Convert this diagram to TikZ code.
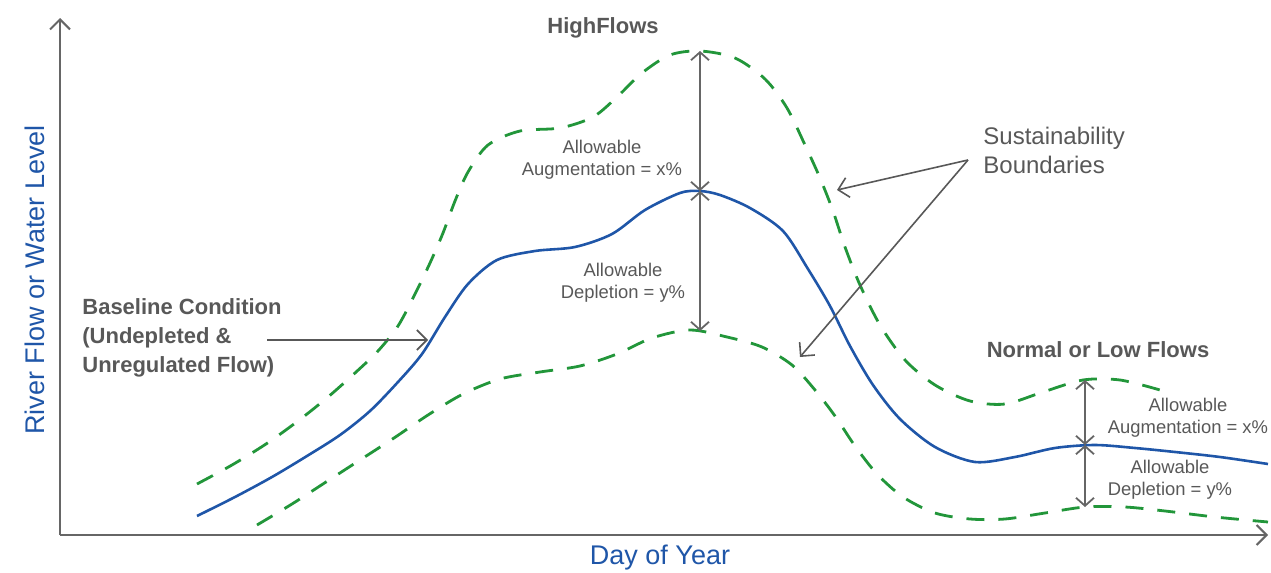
\documentclass[tikz,border=0pt]{standalone}
\usepackage{fontspec}
\setmainfont{Liberation Sans}
\usetikzlibrary{arrows.meta, positioning, calc}
\definecolor{axisgray}{HTML}{666666}
\definecolor{txtgray}{HTML}{585858}
\definecolor{flowblue}{HTML}{1F56A8}
\definecolor{boundgreen}{HTML}{22963A}

\begin{document}
\begin{tikzpicture}[x=0.5pt, y=-0.5pt,
    barb/.style={-{Straight Barb[length=5pt,width=10pt]}},
    dbarb/.style={{Straight Barb[length=4pt,width=9pt]}-{Straight Barb[length=4pt,width=9pt]}, axisgray, line width=0.9pt},
    lbl/.style={txtgray, font=\fontsize{9.2}{11}\selectfont, align=center, inner sep=0pt},
    head/.style={txtgray, font=\bfseries\fontsize{11}{14.5}\selectfont, inner sep=0pt},
    bound/.style={boundgreen, line width=1.4pt, dash pattern=on 9pt off 7pt},
    base/.style={flowblue, line width=1.3pt}]
    \useasboundingbox (0,0) rectangle (1271,573);

    % axes
    \coordinate (O) at (60,535);
    \coordinate (Ytop) at (60,18);
    \coordinate (Xend) at (1268,535);
    \draw[barb, axisgray, line width=1pt] (O) -- (Ytop);
    \draw[barb, axisgray, line width=1pt] (O) -- (Xend);
    \node[flowblue, rotate=90, font=\fontsize{13.5}{16}\selectfont] (YL) at (35,280) {River Flow or Water Level};
    \node[flowblue, font=\fontsize{13.5}{16}\selectfont] (XL) at (660,558) {Day of Year};

    % sustainability boundaries
    \draw[bound] plot[smooth] coordinates {(197,484) (232,465) (266,444) (298,421) (328,397) (355,373) (378,351) (398,326) (415,294) (430,263) (443,233) (455,201) (468,172) (488,145) (520,131) (560,128) (593,117) (617,97) (642,73) (670,55) (700,51) (735,58) (765,79) (787,108) (805,145) (820,178) (833,211) (845,247) (860,285) (880,325) (905,360) (935,385) (970,401) (1005,404) (1043,392) (1083,380) (1120,380) (1160,390)};
    \draw[bound] plot[smooth] coordinates {(257,525) (292,504) (326,482) (360,460) (394,438) (428,415) (463,394) (500,379) (540,372) (580,366) (617,354) (652,338) (690,330) (727,337) (762,347) (792,365) (815,390) (835,416) (855,446) (877,474) (903,497) (935,513) (970,519) (1005,519) (1045,513) (1085,507) (1125,507) (1165,511) (1215,517) (1268,522)};

    % baseline flow
    \draw[base] plot[smooth] coordinates {(197,516) (235,497) (272,477) (307,456) (340,435) (370,411) (398,382) (422,354) (445,317) (468,284) (497,260) (535,251) (575,247) (612,234) (645,210) (680,193) (700,191) (720,195) (750,208) (783,231) (808,269) (830,306) (850,346) (873,385) (900,419) (935,447) (975,462) (1015,457) (1055,448) (1095,445) (1135,448) (1175,452) (1220,457) (1268,464)};

    % measurement arrows
    \coordinate (HiUp) at (700,51);
    \coordinate (HiMid) at (700,191);
    \coordinate (HiLow) at (700,331);
    \coordinate (LoUp) at (1085,380);
    \coordinate (LoMid) at (1085,445);
    \coordinate (LoLow) at (1085,507);
    \draw[dbarb] (HiUp) -- (HiMid);
    \draw[dbarb] (HiMid) -- (HiLow);
    \draw[dbarb] (LoUp) -- (LoMid);
    \draw[dbarb] (LoMid) -- (LoLow);

    % labels
    \node[head] (HF) at (603,28) {HighFlows};
    \node[head] (NLF) at (1098,350) {Normal or Low Flows};
    \node[lbl] (HAug) at (602,160) {Allowable\\Augmentation = x\%};
    \node[lbl] (HDep) at (623,283) {Allowable\\Depletion = y\%};
    \node[lbl] (LAug) at (1188,418) {Allowable\\Augmentation = x\%};
    \node[lbl] (LDep) at (1170,480) {Allowable\\Depletion = y\%};
    \node[head, align=left, anchor=west] (BC) at (82,338) {Baseline Condition\\(Undepleted \&\\Unregulated Flow)};
    \node[txtgray, align=left, anchor=west, inner sep=0pt, font=\fontsize{12}{14.5}\selectfont] (SB) at (983,150) {Sustainability\\Boundaries};

    % pointers
    \coordinate (SBp) at (968,160);
    \coordinate (UpB) at (837,190);
    \coordinate (LowB) at (800,357);
    \coordinate (BCp) at (267,340);
    \coordinate (BaseC) at (428,340);
    \draw[barb, txtgray, line width=0.8pt] (SBp) -- (UpB);
    \draw[barb, txtgray, line width=0.8pt] (SBp) -- (LowB);
    \draw[barb, txtgray, line width=0.8pt] (BCp) -- (BaseC);
\end{tikzpicture}
\end{document}
